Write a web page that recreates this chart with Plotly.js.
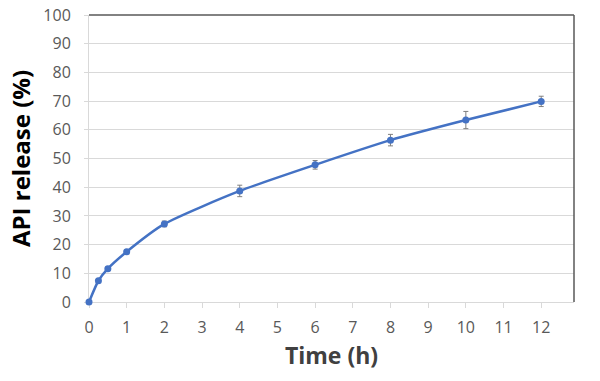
<!DOCTYPE html>
<html>
<head>
<meta charset="utf-8">
<script src="https://cdn.plot.ly/plotly-3.0.1.min.js"></script>
<style>html,body{margin:0;padding:0;background:#fff;}#chart{width:600px;height:381px;}</style>
</head>
<body>
<div id="chart"></div>
<script>
const timeH = [0, 0.25, 0.5, 1, 2, 4, 6, 8, 10, 12];
const releasePct = [0, 7.4, 11.6, 17.5, 27.2, 38.7, 47.8, 56.4, 63.4, 69.9];
const releaseErr = [null, 0.5, 0.6, 0.7, 1.0, 2.0, 1.5, 2.0, 3.0, 1.8];
const xTicks = [0,1,2,3,4,5,6,7,8,9,10,11,12];
const yTicks = [0,10,20,30,40,50,60,70,80,90,100];

const trace = {
  x: timeH, y: releasePct, type: 'scatter', mode: 'lines+markers',
  line: {color: '#4472C4', width: 2.5, shape: 'spline', smoothing: 0.6},
  marker: {color: '#4472C4', size: 7},
  error_y: {type: 'data', array: releaseErr, visible: true, color: '#7f7f7f', thickness: 1, width: 2.5},
  cliponaxis: false, showlegend: false
};

const layout = {
  width: 600, height: 381,
  margin: {l: 89, r: 26, t: 15, b: 79},
  paper_bgcolor: '#fff', plot_bgcolor: '#fff',
  font: {family: 'Open Sans, Liberation Sans, sans-serif', color: '#595959'},
  xaxis: {
    range: [0, 12.87], tickvals: xTicks, ticktext: xTicks.map(String),
    showgrid: false, zeroline: false, showline: true, linecolor: '#d9d9d9', linewidth: 1,
    layer: 'below traces',
    ticks: 'outside', ticklen: 5, tickcolor: '#d9d9d9', tickfont: {size: 16, color: '#595959'},
    ticklabelstandoff: 6,
    title: {text: 'Time (h)', font: {size: 23, color: '#404040', family: 'Open Sans, sans-serif', weight: 'bold'}, standoff: 10}
  },
  yaxis: {
    range: [0, 100], tickvals: yTicks, ticktext: yTicks.map(String),
    showgrid: true, gridcolor: '#d9d9d9', gridwidth: 1, zeroline: false,
    showline: true, linecolor: '#d9d9d9', linewidth: 1,
    layer: 'below traces',
    ticks: 'outside', ticklen: 4, tickcolor: '#d9d9d9', tickfont: {size: 16, color: '#595959'},
    ticklabelstandoff: 10,
    title: {text: 'API release (%)', font: {size: 24, color: '#000', family: 'Open Sans, sans-serif', weight: 'bold'}, standoff: 5}
  },
  shapes: [
    {type: 'line', xref: 'paper', yref: 'paper', x0: 0, x1: 1, y0: 1, y1: 1, line: {color: '#595959', width: 1.5}},
    {type: 'line', xref: 'paper', yref: 'paper', x0: 1, x1: 1, y0: 0, y1: 1, line: {color: '#595959', width: 1.5}}
  ]
};

Plotly.newPlot('chart', [trace], layout, {displayModeBar: false, staticPlot: true});
</script>
</body>
</html>
